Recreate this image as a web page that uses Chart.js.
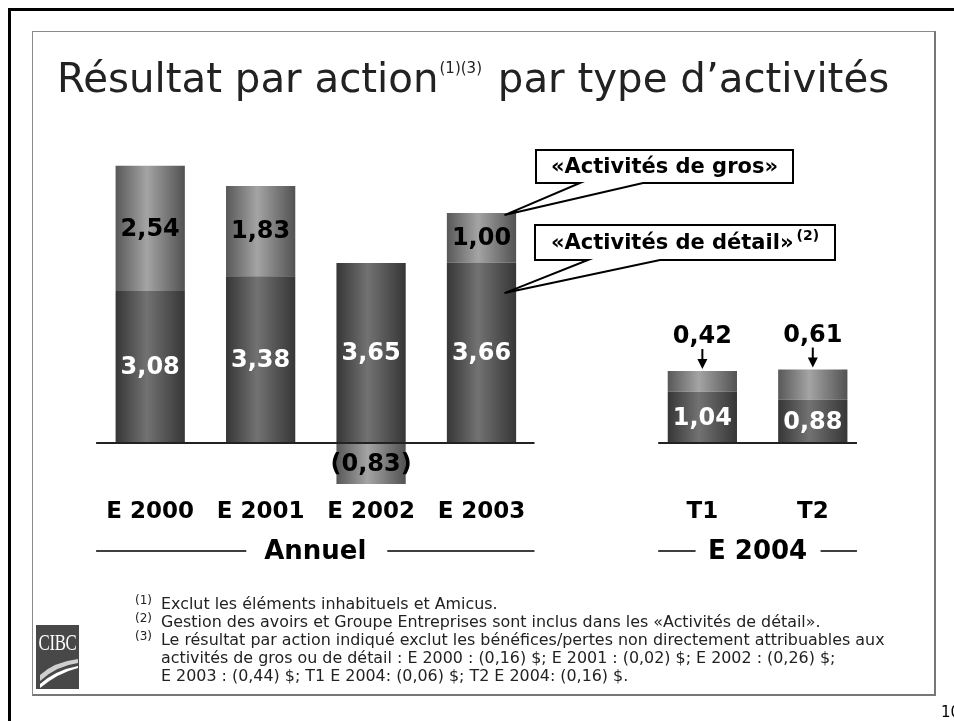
<!DOCTYPE html>
<html><head><meta charset="utf-8">
<script src="https://cdn.jsdelivr.net/npm/chart.js@4.4.1/dist/chart.umd.min.js"></script>
<style>
html,body{margin:0;padding:0;width:954px;height:721px;overflow:hidden;background:#fff;font-family:"DejaVu Sans",Verdana,sans-serif;}
.abs{position:absolute;}
#c{position:absolute;left:0;top:0;z-index:1;}
.fn{position:absolute;left:161px;font-size:15.9px;line-height:18px;color:#222;white-space:nowrap;z-index:2}
.fn sup{position:absolute;left:-26px;top:-4px;font-size:12px;}
</style></head><body>
<div class="abs" style="left:8px;top:8px;width:946px;height:3px;background:#000"></div>
<div class="abs" style="left:8px;top:8px;width:3px;height:713px;background:#000"></div>
<div class="abs" style="left:32px;top:31px;width:901px;height:662px;border-top:1px solid #8a8a8a;border-left:1px solid #8a8a8a;border-right:2px solid #777;border-bottom:2px solid #777;"></div>
<div class="abs" style="left:57px;top:55px;font-size:40.3px;color:#222;white-space:nowrap;z-index:2">Résultat par action<span style="font-size:15px;position:relative;top:-19px;margin-left:1px;margin-right:3px">(1)(3)</span> par type d’activités</div>

<div class="fn" style="top:595px"><sup>(1)</sup>Exclut les éléments inhabituels et Amicus.</div>
<div class="fn" style="top:613px"><sup>(2)</sup>Gestion des avoirs et Groupe Entreprises sont inclus dans les «Activités de détail».</div>
<div class="fn" style="top:631px"><sup>(3)</sup>Le résultat par action indiqué exclut les bénéfices/pertes non directement attribuables aux<br>activités de gros ou de détail : E 2000 : (0,16) $; E 2001 : (0,02) $; E 2002 : (0,26) $;<br>E 2003 : (0,44) $; T1 E 2004: (0,06) $; T2 E 2004: (0,16) $.</div>

<div class="abs" style="left:36px;top:625px;width:43px;height:64px;background:#484848;z-index:2;overflow:hidden">
  <div style="position:absolute;left:-10px;top:4px;width:63px;text-align:center;font-family:'Liberation Serif',serif;font-size:24px;color:#fff;transform:scaleX(0.7);letter-spacing:-0.5px">CIBC</div>
  <svg width="43" height="64" style="position:absolute;left:0;top:0">
    <path d="M4 50 Q18 37 42 34 L42 38 Q20 41 4 56 Z" fill="#cfcfcf"/>
    <path d="M4 59 Q20 45 42 41 L42 43 Q22 48 4 63 Z" fill="#fff"/>
  </svg>
</div>
<div class="abs" style="left:941px;top:703px;font-size:15px;color:#000;z-index:2">10</div>

<canvas id="c" width="954" height="721"></canvas>
<script>
const categories = ['E 2000','E 2001','E 2002','E 2003','','T1','T2'];
const detailValues = [3.08, 3.38, 3.65, 3.66, null, 1.04, 0.88];
const grosValues   = [2.54, 1.83, -0.83, 1.00, null, 0.42, 0.61];
const groupLabels  = ['Annuel','E 2004'];
const calloutLabels = ['«Activités de gros»','«Activités de détail»'];

const BAR_FRAC = 0.627;
function fmt(v){ const s = Math.abs(v).toFixed(2).replace('.', ','); return v < 0 ? '(' + s + ')' : s; }

function makeGrad(ctx, dark){
  const chart = ctx.chart;
  const xs = chart.scales && chart.scales.x;
  if (!chart.chartArea || !xs || xs.getPixelForValue(0) === undefined) return dark ? '#555' : '#888';
  const cw = xs.width / categories.length;
  const cx = xs.getPixelForValue(ctx.dataIndex);
  const w = cw * BAR_FRAC;
  const g = chart.ctx.createLinearGradient(cx - w/2, 0, cx + w/2, 0);
  if (dark){
    g.addColorStop(0,'#363636'); g.addColorStop(0.45,'#727272'); g.addColorStop(1,'#363636');
  } else {
    g.addColorStop(0,'#585858'); g.addColorStop(0.45,'#a4a4a4'); g.addColorStop(1,'#525252');
  }
  return g;
}

const annot = {
  id:'annot',
  afterDatasetsDraw(chart){
    const c = chart.ctx, xs = chart.scales.x, ys = chart.scales.y;
    const cw = xs.width / categories.length;
    const y0 = ys.getPixelForValue(0);
    c.save();
    // baselines
    c.strokeStyle = '#222'; c.lineWidth = 2;
    c.beginPath();
    c.moveTo(xs.getPixelForValue(0) - 0.49*cw, y0); c.lineTo(xs.getPixelForValue(3) + 0.48*cw, y0);
    c.moveTo(xs.getPixelForValue(5) - 0.40*cw, y0); c.lineTo(xs.getPixelForValue(6) + 0.40*cw, y0);
    c.stroke();
    // value labels
    c.font = 'bold 24px "DejaVu Sans"'; c.textAlign = 'center'; c.textBaseline = 'middle';
    for (let i = 0; i < categories.length; i++){
      const d = detailValues[i], g = grosValues[i];
      if (d == null) continue;
      const x = xs.getPixelForValue(i);
      c.fillStyle = '#fff';
      c.fillText(fmt(d), x, (ys.getPixelForValue(0) + ys.getPixelForValue(d))/2 + 1);
      if (i < 4){
        c.fillStyle = '#000';
        const base = g >= 0 ? d : 0;
        c.fillText(fmt(g), x, (ys.getPixelForValue(base) + ys.getPixelForValue(base + g))/2 + 1);
      } else {
        const top = ys.getPixelForValue(d + g);
        c.fillStyle = '#000';
        c.fillText(fmt(g), x, top - 34);
        c.strokeStyle = '#000'; c.lineWidth = 2;
        c.beginPath(); c.moveTo(x, top - 22); c.lineTo(x, top - 10); c.stroke();
        c.beginPath(); c.moveTo(x - 5, top - 12); c.lineTo(x + 5, top - 12); c.lineTo(x, top - 2); c.closePath(); c.fill();
      }
    }
    // callouts
    const xe = xs.getPixelForValue(3);
    function callout(bx, by, bw, bh, w1, w2, tx, ty, text, sup){
      c.beginPath();
      c.moveTo(bx, by); c.lineTo(bx + bw, by); c.lineTo(bx + bw, by + bh);
      c.lineTo(w2, by + bh); c.lineTo(tx, ty); c.lineTo(w1, by + bh); c.lineTo(bx, by + bh); c.closePath();
      c.fillStyle = '#fff'; c.fill();
      c.strokeStyle = '#000'; c.lineWidth = 2; c.lineJoin = 'miter'; c.stroke();
      c.fillStyle = '#000'; c.font = 'bold 21px "DejaVu Sans"'; c.textAlign = 'left'; c.textBaseline = 'middle';
      const tw = c.measureText(text).width;
      let total = tw;
      if (sup){ c.font = 'bold 14px "DejaVu Sans"'; total += c.measureText(sup).width + 3; c.font = 'bold 21px "DejaVu Sans"'; }
      const sx = bx + (bw - total)/2;
      c.fillText(text, sx, by + bh/2 + 1);
      if (sup){ c.font = 'bold 14px "DejaVu Sans"'; c.fillText(sup, sx + tw + 3, by + bh/2 - 6); }
    }
    callout(536, 150, 257, 33, 580, 643, xe + 23, ys.getPixelForValue(4.62), calloutLabels[0], '');
    callout(535, 225, 300, 35, 588, 660, xe + 23, ys.getPixelForValue(3.04), calloutLabels[1], '(2)');
    // group labels
    c.font = 'bold 26px "DejaVu Sans"'; c.textAlign = 'center'; c.textBaseline = 'middle'; c.fillStyle = '#000';
    const gy = 551;
    const g1 = (xs.getPixelForValue(0) - 0.49*cw + xs.getPixelForValue(3) + 0.48*cw)/2;
    const g2 = (xs.getPixelForValue(5) + xs.getPixelForValue(6))/2;
    c.fillText(groupLabels[0], g1, gy + 1);
    c.fillText(groupLabels[1], g2, gy + 1);
    c.strokeStyle = '#000'; c.lineWidth = 1.5;
    c.beginPath();
    c.moveTo(xs.getPixelForValue(0) - 0.49*cw, gy); c.lineTo(g1 - 69, gy);
    c.moveTo(g1 + 72, gy); c.lineTo(xs.getPixelForValue(3) + 0.48*cw, gy);
    c.moveTo(xs.getPixelForValue(5) - 0.40*cw, gy); c.lineTo(g2 - 62, gy);
    c.moveTo(g2 + 63, gy); c.lineTo(xs.getPixelForValue(6) + 0.40*cw, gy);
    c.stroke();
    c.restore();
  }
};

new Chart(document.getElementById('c'), {
  type:'bar',
  data:{ labels: categories, datasets:[
    { label:'Activités de détail', data: detailValues, backgroundColor: (ctx)=>makeGrad(ctx,true), borderWidth:0, barPercentage:0.70, categoryPercentage:0.896 },
    { label:'Activités de gros', data: grosValues, backgroundColor: (ctx)=>makeGrad(ctx,false), borderWidth:0, barPercentage:0.70, categoryPercentage:0.896 }
  ]},
  options:{
    responsive:false, animation:false,
    layout:{ padding:{ left:95, right:86, top:147, bottom:189 } },
    plugins:{ legend:{display:false}, tooltip:{enabled:false}, title:{display:false} },
    scales:{
      x:{ stacked:true, offset:true, grid:{display:false, drawTicks:false}, border:{display:false},
          ticks:{ color:'#000', font:{ family:'DejaVu Sans', weight:'bold', size:23 }, padding:6, maxRotation:0, autoSkip:false } },
      y:{ stacked:true, display:false, min:-1, max:6 }
    }
  },
  plugins:[annot]
});
</script>
</body></html>
